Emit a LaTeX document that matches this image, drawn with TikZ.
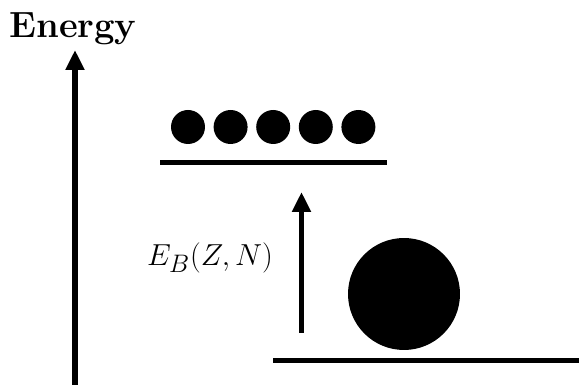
\documentclass[tikz,border=0pt]{standalone}
\usepackage{tikz}
\usetikzlibrary{arrows.meta, positioning, calc}
\tikzstyle{arrow} = [-{Triangle[length=0.4cm, width=0.36cm]}, line width=2.9pt]
\tikzstyle{level} = [line width=2.9pt]
\tikzstyle{nucleon} = [circle, fill=black, inner sep=0pt, minimum size=0.68cm]
\tikzstyle{nucleus} = [circle, fill=black, inner sep=0pt, minimum size=2.24cm]

\begin{document}
\begin{tikzpicture}[x=0.02cm, y=0.02cm]
\useasboundingbox (0,0) rectangle (579,385);

% Title
\node[font=\huge\bfseries, anchor=base] (title) at (73,347) {Energy};

% Energy axis
\coordinate (axisbot) at (75,0);
\coordinate (axistop) at (75,335);
\draw[arrow] (axisbot) -- (axistop);

% Free nucleons and their level
\foreach \i in {0,...,4}
  \node[nucleon] (n\i) at ({188+42.6*\i},258) {};
\coordinate (upleft) at (160,222.5);
\coordinate (upright) at (387,222.5);
\draw[level] (upleft) -- (upright);

% Bound nucleus and its level
\node[nucleus] (nucleus) at (404,91) {};
\coordinate (lowleft) at (273,24.5);
\coordinate (lowright) at (579,24.5);
\draw[level] (lowleft) -- (lowright);

% Binding energy
\coordinate (ebot) at (301.5,52);
\coordinate (etop) at (301.5,193);
\draw[arrow] (ebot) -- (etop);
\node[font=\fontsize{19}{23}\selectfont] (eb) at (210,127) {$E_B(Z,N)$};

\end{tikzpicture}
\end{document}
